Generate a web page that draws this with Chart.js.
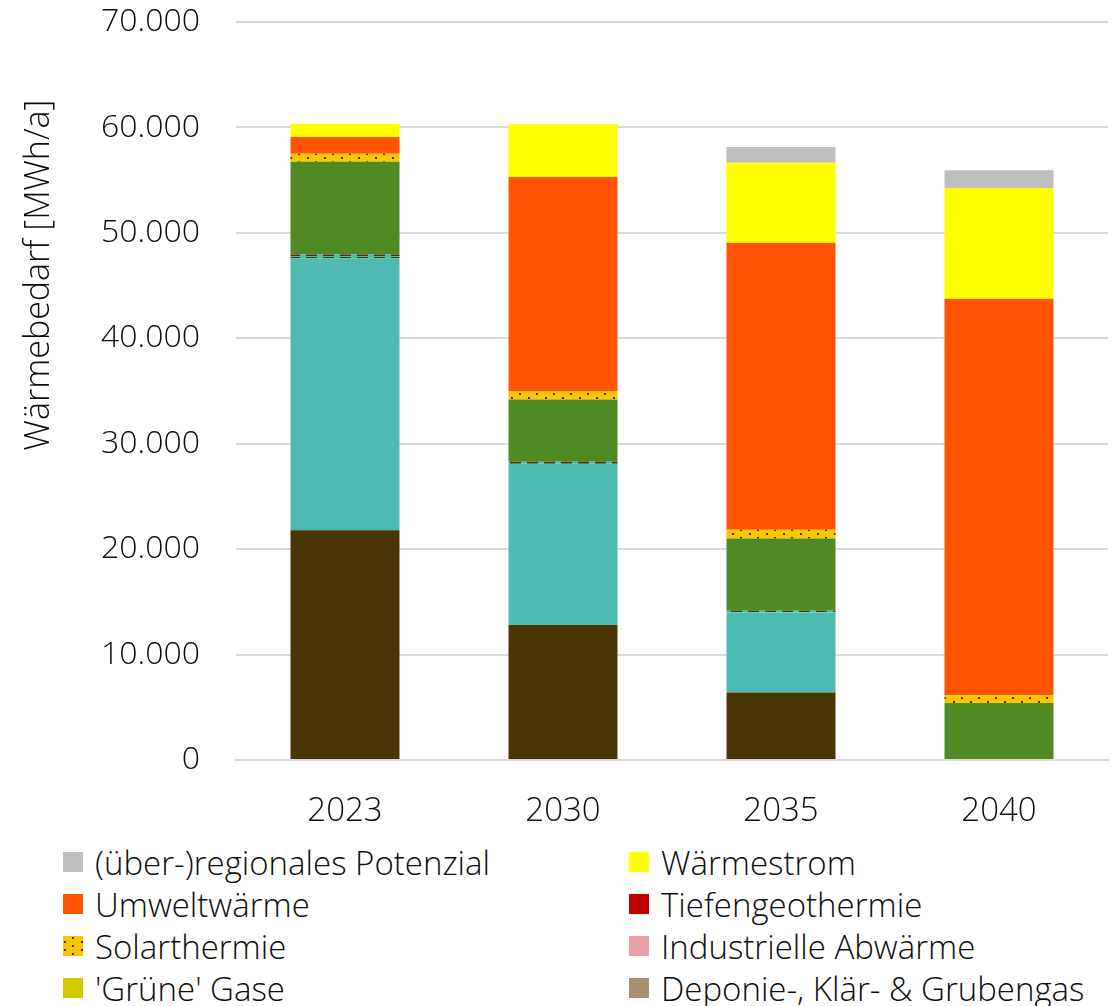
<!DOCTYPE html>
<html>
<head>
<meta charset="utf-8">
<script src="https://cdn.jsdelivr.net/npm/chart.js@4/dist/chart.umd.min.js"></script>
<style>
  html, body { margin: 0; padding: 0; background: #fff; overflow: hidden; }
  #wrap { position: relative; width: 1115px; height: 835px; }
  #legend {
    display: grid; grid-template-columns: 566px 480px;
    margin-left: 63px; margin-top: 6px;
    font-family: 'Open Sans', sans-serif; font-weight: 300; font-size: 33px; color: #0d0d0d;
  }
  #legend .item { display: flex; align-items: center; height: 42px; white-space: nowrap; }
  #legend .sw { width: 20px; height: 20px; margin-right: 12px; flex: none; }
</style>
</head>
<body>
<div id="wrap"><canvas id="chart"></canvas></div>
<div id="legend"></div>
<script>
// data, MWh/a
const years = ['2023', '2030', '2035', '2040'];
const heizoel     = [21800, 12800, 6400, 0];
const erdgas      = [25800, 15300, 7600, 0];
const kohle       = [350, 200, 150, 0];
const biomasse    = [8800, 5900, 6850, 5400];
const deponie     = [0, 0, 0, 0];
const grueneGase  = [0, 0, 0, 0];
const abwaerme    = [0, 0, 0, 0];
const solar       = [750, 800, 850, 750];
const tiefengeo   = [0, 0, 0, 0];
const umwelt      = [1600, 20300, 27200, 37600];
const waermestrom = [1250, 5000, 7600, 10500];
const potenzial   = [0, 0, 1500, 1700];
const yTicks = [0, 10000, 20000, 30000, 40000, 50000, 60000, 70000];

function makePattern(w, h, draw) {
  const c = document.createElement('canvas');
  c.width = w; c.height = h;
  draw(c.getContext('2d'));
  return c;
}
const solarTile = makePattern(17, 8, g => {
  g.fillStyle = '#f7c800'; g.fillRect(0, 0, 17, 8);
  g.fillStyle = '#7f1010'; g.fillRect(1, 5, 2, 2); g.fillRect(9, 1, 2, 2);
});
const dashTile = makePattern(17, 4, g => {
  g.fillStyle = '#4ebbb2'; g.fillRect(0, 0, 17, 4);
  g.fillStyle = '#4a3604'; g.fillRect(0, 1, 11, 3);
});

const ctx = document.getElementById('chart').getContext('2d');
const solarFill = ctx.createPattern(solarTile, 'repeat');
const dashFill = ctx.createPattern(dashTile, 'repeat');

// bottom to top
const series = [
  { label: 'Heizöl', data: heizoel, color: '#4a3604' },
  { label: 'Erdgas', data: erdgas, color: '#4ebbb2' },
  { label: 'Kohle', data: kohle, color: dashFill },
  { label: 'Biomasse', data: biomasse, color: '#4f8a24' },
  { label: 'Deponie-, Klär- & Grubengas', data: deponie, color: '#a89070', legend: true },
  { label: "'Grüne' Gase", data: grueneGase, color: '#d4c800', legend: true },
  { label: 'Industrielle Abwärme', data: abwaerme, color: '#e8a0a8', legend: true },
  { label: 'Solarthermie', data: solar, color: solarFill, swatch: solarTile, legend: true },
  { label: 'Tiefengeothermie', data: tiefengeo, color: '#c00000', legend: true },
  { label: 'Umweltwärme', data: umwelt, color: '#ff5305', legend: true },
  { label: 'Wärmestrom', data: waermestrom, color: '#ffff00', legend: true },
  { label: '(über-)regionales Potenzial', data: potenzial, color: '#bfbfbf', legend: true }
];

const FONT = "'Open Sans', sans-serif";
const TXT = '#0d0d0d';

// y title sits above the axis middle in the original, so draw it by hand
const yTitle = {
  id: 'yTitle',
  afterDraw(chart) {
    const c = chart.ctx;
    c.save();
    c.translate(39, 275);
    c.rotate(-Math.PI / 2);
    c.font = '300 34px ' + FONT;
    c.fillStyle = TXT;
    c.textAlign = 'center';
    c.textBaseline = 'middle';
    c.fillText('Wärmebedarf [MWh/a]', 0, 0);
    c.restore();
  }
};

new Chart(ctx, {
  type: 'bar',
  data: {
    labels: years,
    datasets: series.map(s => ({
      label: s.label, data: s.data, backgroundColor: s.color,
      borderWidth: 0, barPercentage: 0.5, categoryPercentage: 1
    }))
  },
  plugins: [yTitle],
  options: {
    responsive: true, maintainAspectRatio: false, animation: false,
    layout: { padding: { top: 22, right: 7, left: 0, bottom: 0 } },
    plugins: { legend: { display: false }, tooltip: { enabled: false } },
    scales: {
      x: {
        stacked: true,
        grid: { display: false },
        border: { color: '#d9d9d9', width: 2 },
        ticks: { color: TXT, font: { family: FONT, size: 33, weight: 300 }, padding: 24 },
        afterFit: sc => { sc.height = 75; sc.paddingLeft = 0; sc.paddingRight = 0; }
      },
      y: {
        stacked: true, min: 0, max: 70000,
        afterBuildTicks: sc => { sc.ticks = yTicks.map(v => ({ value: v })); },
        grid: { color: '#d9d9d9', lineWidth: 2, drawTicks: false },
        border: { display: false },
        ticks: {
          color: TXT, font: { family: FONT, size: 32, weight: 300 }, padding: 36,
          callback: v => v.toLocaleString('de-DE')
        },
        afterFit: sc => { sc.width = 236; sc.paddingTop = 0; sc.paddingBottom = 0; }
      }
    }
  }
});

// legend, top row first, two columns
const legendEl = document.getElementById('legend');
series.filter(s => s.legend).reverse().forEach(s => {
  const item = document.createElement('div');
  item.className = 'item';
  const sw = document.createElement('span');
  sw.className = 'sw';
  if (s.swatch) sw.style.backgroundImage = 'url(' + s.swatch.toDataURL() + ')';
  else sw.style.background = s.color;
  item.appendChild(sw);
  item.appendChild(document.createTextNode(s.label));
  legendEl.appendChild(item);
});
</script>
</body>
</html>
